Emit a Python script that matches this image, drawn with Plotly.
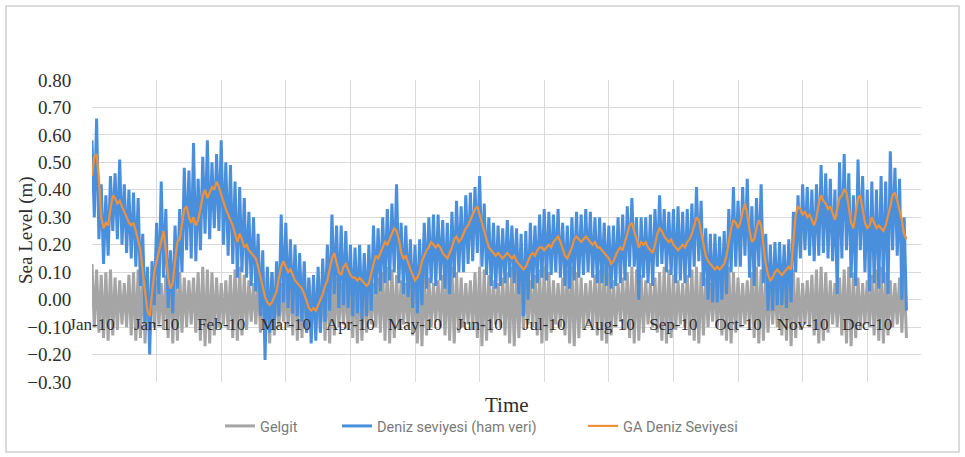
import plotly.graph_objects as go

# Daily readings through 2010 (day index 0 = 1 Jan 2010)
# Gelgit (astronomical tide) - alternating daily high / low
gelgit = [
    0.13, -0.10, 0.11, -0.12, 0.09, -0.14, 0.10, -0.15, 0.11, -0.13,
    0.08, -0.11, 0.07, -0.09, 0.06, -0.10, 0.09, -0.13, 0.10, -0.15,
    0.11, -0.14, 0.12, -0.16, 0.10, -0.13, 0.08, -0.10, 0.07, -0.09,
    0.06, -0.11, 0.09, -0.14, 0.11, -0.16, 0.12, -0.15, 0.10, -0.12,
    0.08, -0.10, 0.07, -0.09, 0.08, -0.12, 0.10, -0.15, 0.12, -0.17,
    0.11, -0.16, 0.10, -0.13, 0.08, -0.10, 0.06, -0.09, 0.07, -0.11,
    0.09, -0.14, 0.11, -0.15, 0.12, -0.13, 0.09, -0.11, 0.07, -0.08,
    0.06, -0.09, 0.08, -0.12, 0.10, -0.14, 0.11, -0.16, 0.10, -0.13,
    0.08, -0.10, 0.06, -0.08, 0.07, -0.10, 0.09, -0.13, 0.11, -0.15,
    0.12, -0.14, 0.10, -0.12, 0.07, -0.09, 0.06, -0.10, 0.08, -0.12,
    0.10, -0.15, 0.12, -0.16, 0.11, -0.13, 0.08, -0.10, 0.06, -0.09,
    0.07, -0.11, 0.09, -0.14, 0.11, -0.16, 0.12, -0.15, 0.09, -0.12,
    0.07, -0.09, 0.06, -0.10, 0.08, -0.12, 0.10, -0.15, 0.12, -0.16,
    0.11, -0.14, 0.09, -0.11, 0.07, -0.09, 0.06, -0.10, 0.09, -0.13,
    0.11, -0.16, 0.12, -0.17, 0.10, -0.13, 0.08, -0.10, 0.06, -0.08,
    0.07, -0.10, 0.09, -0.13, 0.11, -0.15, 0.12, -0.16, 0.10, -0.12,
    0.08, -0.10, 0.06, -0.09, 0.07, -0.11, 0.10, -0.14, 0.12, -0.17,
    0.11, -0.15, 0.09, -0.12, 0.07, -0.09, 0.06, -0.10, 0.08, -0.13,
    0.10, -0.16, 0.12, -0.17, 0.11, -0.14, 0.08, -0.11, 0.06, -0.09,
    0.07, -0.10, 0.09, -0.13, 0.11, -0.16, 0.12, -0.15, 0.10, -0.12,
    0.07, -0.09, 0.06, -0.10, 0.08, -0.13, 0.11, -0.16, 0.12, -0.17,
    0.10, -0.14, 0.08, -0.11, 0.06, -0.09, 0.07, -0.10, 0.09, -0.13,
    0.11, -0.15, 0.12, -0.16, 0.10, -0.13, 0.07, -0.10, 0.06, -0.08,
    0.08, -0.11, 0.10, -0.14, 0.12, -0.16, 0.11, -0.15, 0.09, -0.12,
    0.07, -0.09, 0.06, -0.10, 0.08, -0.12, 0.10, -0.15, 0.12, -0.16,
    0.11, -0.14, 0.09, -0.11, 0.07, -0.09, 0.06, -0.10, 0.09, -0.13,
    0.11, -0.15, 0.12, -0.16, 0.10, -0.13, 0.08, -0.10, 0.06, -0.08,
    0.07, -0.10, 0.09, -0.13, 0.11, -0.15, 0.12, -0.16, 0.10, -0.12,
    0.08, -0.10, 0.06, -0.09, 0.07, -0.11, 0.10, -0.14, 0.12, -0.16,
    0.11, -0.15, 0.09, -0.12, 0.07, -0.09, 0.06, -0.10, 0.08, -0.13,
    0.10, -0.15, 0.12, -0.17, 0.11, -0.14, 0.08, -0.11, 0.06, -0.09,
    0.07, -0.10, 0.09, -0.13, 0.11, -0.16, 0.12, -0.15, 0.10, -0.12,
    0.07, -0.09, 0.06, -0.10, 0.08, -0.13, 0.11, -0.16, 0.12, -0.17,
    0.10, -0.14, 0.08, -0.11, 0.06, -0.09, 0.07, -0.10, 0.09, -0.13,
    0.11, -0.15, 0.12, -0.16, 0.10, -0.13, 0.07, -0.10, 0.06, -0.09,
    0.08, -0.12, 0.10, -0.14,
]

# Deniz seviyesi (ham veri) - observed sea level, alternating daily high / low
deniz_ham = [
    0.58, 0.30, 0.66, 0.22, 0.42, 0.13, 0.38, 0.16, 0.45, 0.25,
    0.46, 0.22, 0.51, 0.20, 0.42, 0.17, 0.40, 0.15, 0.39, 0.12,
    0.37, 0.05, 0.24, -0.08, 0.12, -0.20, 0.14, -0.02, 0.28, 0.02,
    0.43, 0.08, 0.33, -0.03, 0.18, -0.05, 0.27, 0.04, 0.33, 0.10,
    0.48, 0.18, 0.47, 0.15, 0.57, 0.14, 0.44, 0.18, 0.52, 0.24,
    0.58, 0.22, 0.50, 0.26, 0.53, 0.25, 0.58, 0.20, 0.50, 0.16,
    0.49, 0.13, 0.43, 0.08, 0.41, 0.10, 0.37, 0.08, 0.32, 0.05,
    0.30, 0.03, 0.24, -0.06, 0.18, -0.22, 0.12, -0.12, 0.10, -0.11,
    0.14, -0.06, 0.31, -0.01, 0.28, -0.03, 0.22, -0.05, 0.20, -0.06,
    0.17, -0.08, 0.14, -0.12, 0.08, -0.16, 0.09, -0.15, 0.12, -0.12,
    0.15, -0.08, 0.20, -0.04, 0.31, 0.02, 0.27, -0.03, 0.27, -0.02,
    0.25, -0.03, 0.20, -0.06, 0.19, -0.05, 0.20, -0.07, 0.17, -0.06,
    0.20, -0.04, 0.27, 0.02, 0.26, 0.03, 0.30, 0.06, 0.33, 0.07,
    0.35, 0.10, 0.42, 0.06, 0.28, 0.02, 0.27, 0.01, 0.22, -0.03,
    0.20, -0.05, 0.22, -0.02, 0.28, 0.04, 0.30, 0.06, 0.31, 0.05,
    0.31, 0.07, 0.29, 0.04, 0.28, 0.02, 0.32, 0.08, 0.36, 0.10,
    0.34, 0.10, 0.38, 0.13, 0.39, 0.14, 0.41, 0.17, 0.45, 0.12,
    0.35, 0.09, 0.30, 0.05, 0.28, 0.04, 0.27, 0.05, 0.26, 0.06,
    0.29, 0.08, 0.27, 0.06, 0.26, 0.02, 0.24, -0.06, 0.25, 0.00,
    0.28, 0.04, 0.27, 0.06, 0.31, 0.08, 0.33, 0.07, 0.32, 0.09,
    0.31, 0.10, 0.33, 0.08, 0.28, 0.05, 0.27, 0.04, 0.30, 0.07,
    0.32, 0.08, 0.31, 0.09, 0.33, 0.10, 0.32, 0.08, 0.30, 0.06,
    0.30, 0.06, 0.28, 0.05, 0.27, 0.04, 0.27, 0.05, 0.30, 0.06,
    0.31, 0.07, 0.34, 0.12, 0.37, 0.12, 0.30, 0.00, 0.30, 0.08,
    0.30, 0.06, 0.31, 0.05, 0.33, 0.12, 0.38, 0.13, 0.33, 0.10,
    0.32, 0.09, 0.33, 0.06, 0.34, 0.07, 0.32, 0.06, 0.33, 0.08,
    0.35, 0.12, 0.41, 0.14, 0.36, 0.05, 0.26, 0.00, 0.24, -0.01,
    0.24, -0.01, 0.23, 0.00, 0.25, 0.02, 0.33, 0.10, 0.41, 0.12,
    0.36, 0.12, 0.41, 0.16, 0.44, 0.08, 0.34, 0.05, 0.37, 0.12,
    0.42, 0.06, 0.24, -0.04, 0.20, -0.04, 0.21, -0.02, 0.21, -0.02,
    0.20, -0.03, 0.22, -0.01, 0.32, 0.10, 0.38, 0.15, 0.42, 0.18,
    0.41, 0.16, 0.40, 0.14, 0.42, 0.16, 0.49, 0.17, 0.46, 0.15,
    0.44, 0.14, 0.40, 0.02, 0.50, 0.15, 0.53, 0.18, 0.46, 0.08,
    0.38, 0.05, 0.51, 0.18, 0.45, 0.10, 0.40, 0.03, 0.43, 0.06,
    0.40, 0.04, 0.45, 0.06, 0.43, 0.02, 0.54, 0.18, 0.48, 0.16,
    0.44, 0.00, 0.30, -0.04,
]

# GA Deniz Seviyesi - filtered sea level, one value per day
ga_deniz = [
    0.45, 0.52, 0.53, 0.44, 0.30, 0.26, 0.28, 0.27, 0.33, 0.38,
    0.37, 0.35, 0.36, 0.34, 0.32, 0.30, 0.28, 0.27, 0.28, 0.25,
    0.22, 0.18, 0.10, 0.02, -0.04, -0.06, 0.02, 0.10, 0.14, 0.18,
    0.22, 0.25, 0.18, 0.08, 0.04, 0.06, 0.14, 0.21, 0.22, 0.28,
    0.33, 0.34, 0.30, 0.28, 0.30, 0.27, 0.29, 0.33, 0.38, 0.40,
    0.37, 0.39, 0.41, 0.40, 0.43, 0.41, 0.38, 0.36, 0.33, 0.31,
    0.29, 0.27, 0.24, 0.21, 0.24, 0.22, 0.19, 0.20, 0.18, 0.17,
    0.16, 0.15, 0.12, 0.08, 0.05, 0.01, -0.01, -0.02, -0.01, 0.01,
    0.03, 0.08, 0.12, 0.14, 0.12, 0.10, 0.11, 0.09, 0.07, 0.06,
    0.05, 0.04, 0.02, -0.01, -0.03, -0.04, -0.03, -0.04, -0.02, 0.00,
    0.02, 0.05, 0.07, 0.11, 0.15, 0.17, 0.14, 0.10, 0.09, 0.12,
    0.13, 0.11, 0.09, 0.08, 0.08, 0.07, 0.08, 0.07, 0.06, 0.05,
    0.06, 0.09, 0.13, 0.16, 0.15, 0.17, 0.19, 0.21, 0.20, 0.22,
    0.24, 0.26, 0.25, 0.22, 0.17, 0.15, 0.16, 0.13, 0.11, 0.09,
    0.07, 0.08, 0.10, 0.14, 0.16, 0.18, 0.19, 0.21, 0.20, 0.19,
    0.20, 0.19, 0.17, 0.16, 0.15, 0.17, 0.19, 0.22, 0.23, 0.21,
    0.22, 0.24, 0.26, 0.27, 0.29, 0.31, 0.33, 0.34, 0.31, 0.27,
    0.24, 0.21, 0.19, 0.18, 0.17, 0.16, 0.17, 0.16, 0.15, 0.16,
    0.17, 0.16, 0.15, 0.16, 0.14, 0.13, 0.12, 0.11, 0.12, 0.14,
    0.16, 0.17, 0.16, 0.18, 0.19, 0.19, 0.18, 0.19, 0.20, 0.19,
    0.21, 0.22, 0.23, 0.21, 0.18, 0.16, 0.15, 0.17, 0.19, 0.22,
    0.23, 0.22, 0.21, 0.22, 0.23, 0.22, 0.21, 0.20, 0.21, 0.19,
    0.19, 0.18, 0.17, 0.16, 0.15, 0.13, 0.14, 0.16, 0.18, 0.19,
    0.18, 0.21, 0.24, 0.27, 0.28, 0.25, 0.21, 0.19, 0.21, 0.20,
    0.21, 0.19, 0.18, 0.17, 0.20, 0.24, 0.26, 0.25, 0.23, 0.22,
    0.21, 0.22, 0.20, 0.19, 0.18, 0.19, 0.20, 0.19, 0.21, 0.22,
    0.24, 0.27, 0.30, 0.29, 0.25, 0.20, 0.16, 0.14, 0.13, 0.12,
    0.11, 0.12, 0.11, 0.12, 0.13, 0.16, 0.21, 0.26, 0.29, 0.28,
    0.26, 0.28, 0.32, 0.35, 0.31, 0.25, 0.21, 0.22, 0.26, 0.29,
    0.27, 0.20, 0.13, 0.09, 0.07, 0.08, 0.10, 0.11, 0.10, 0.09,
    0.10, 0.11, 0.12, 0.11, 0.20, 0.31, 0.34, 0.33, 0.31, 0.32,
    0.30, 0.31, 0.29, 0.27, 0.30, 0.35, 0.38, 0.36, 0.35, 0.33,
    0.34, 0.31, 0.29, 0.33, 0.37, 0.38, 0.40, 0.39, 0.34, 0.28,
    0.26, 0.31, 0.37, 0.38, 0.33, 0.28, 0.26, 0.27, 0.30, 0.28,
    0.26, 0.27, 0.26, 0.25, 0.27, 0.30, 0.34, 0.38, 0.39, 0.36,
    0.33, 0.29, 0.24, 0.22,
]

# Axis label positions (every 28 days) and their date labels
tick_days = [0, 28, 56, 84, 112, 140, 168, 196, 224, 252, 280, 308, 336]
tick_labels = ["Jan-10", "Jan-10", "Feb-10", "Mar-10", "Apr-10", "May-10", "Jun-10",
               "Jul-10", "Aug-10", "Sep-10", "Oct-10", "Nov-10", "Dec-10"]

days = list(range(len(ga_deniz)))

GRAY = "#a5a5a5"
BLUE = "#4a8fdc"
ORANGE = "#f0913a"
SERIF = "Liberation Serif"
TEXT = "#2e2e2e"

# plot-area pixel geometry used for paper-space placement
L, R, T, B = 92, 921, 80, 382
W, H = R - L, B - T


def px(x):
    return (x - L) / W


def py(y):
    return (B - y) / H


fig = go.Figure()
fig.add_trace(go.Scatter(x=days, y=gelgit, mode="lines", name="Gelgit",
                         line=dict(color=GRAY, width=3), legend="legend"))
fig.add_trace(go.Scatter(x=days, y=deniz_ham, mode="lines", name="Deniz seviyesi (ham veri)",
                         line=dict(color=BLUE, width=3), legend="legend2"))
fig.add_trace(go.Scatter(x=days, y=ga_deniz, mode="lines", name="GA Deniz Seviyesi",
                         line=dict(color=ORANGE, width=2.2), legend="legend3"))

Y_MIN, Y_MAX = -0.30, 0.80
zero_frac = (0 - Y_MIN) / (Y_MAX - Y_MIN)

legend_font = dict(family="Roboto", size=14.5, color="#7a7a7a")


def legend_at(x_px):
    return dict(orientation="h", x=px(x_px), y=py(426), xanchor="left", yanchor="middle",
                font=legend_font, bgcolor="rgba(0,0,0,0)", borderwidth=0)


fig.update_layout(
    width=965, height=457,
    margin=dict(l=L, r=965 - R, t=T, b=457 - B),
    paper_bgcolor="white", plot_bgcolor="white",
    showlegend=True,
    legend=legend_at(220),
    legend2=legend_at(337),
    legend3=legend_at(583),
    xaxis=dict(
        range=[0, 359.3], tickmode="array", tickvals=tick_days, ticktext=tick_labels,
        showgrid=True, gridcolor="#d9d9d9", gridwidth=1, zeroline=False,
        showline=False, anchor="free", position=zero_frac,
        ticks="outside", ticklen=9, tickcolor="rgba(0,0,0,0)",
        tickfont=dict(family=SERIF, size=17, color=TEXT),
    ),
    yaxis=dict(
        range=[Y_MIN, Y_MAX], tickmode="linear", tick0=-0.3, dtick=0.1, tickformat=".2f",
        showgrid=True, gridcolor="#d9d9d9", gridwidth=1, zeroline=False, showline=False,
        ticks="outside", ticklen=16, tickcolor="rgba(0,0,0,0)",
        tickfont=dict(family=SERIF, size=19, color=TEXT),
    ),
    annotations=[
        dict(text="Time", x=px(507), y=py(405), xref="paper", yref="paper",
             xanchor="center", yanchor="middle", showarrow=False,
             font=dict(family=SERIF, size=21, color=TEXT)),
        dict(text="Sea Level (m)", x=px(26), y=py(230), xref="paper", yref="paper",
             xanchor="center", yanchor="middle", textangle=-90, showarrow=False,
             font=dict(family=SERIF, size=19, color=TEXT)),
    ],
    shapes=[dict(type="rect", xref="paper", yref="paper",
                 x0=px(6), x1=px(959), y0=py(452), y1=py(6),
                 line=dict(color="#d0d0d0", width=1.5), layer="below")],
)

fig.write_html("out.html")
